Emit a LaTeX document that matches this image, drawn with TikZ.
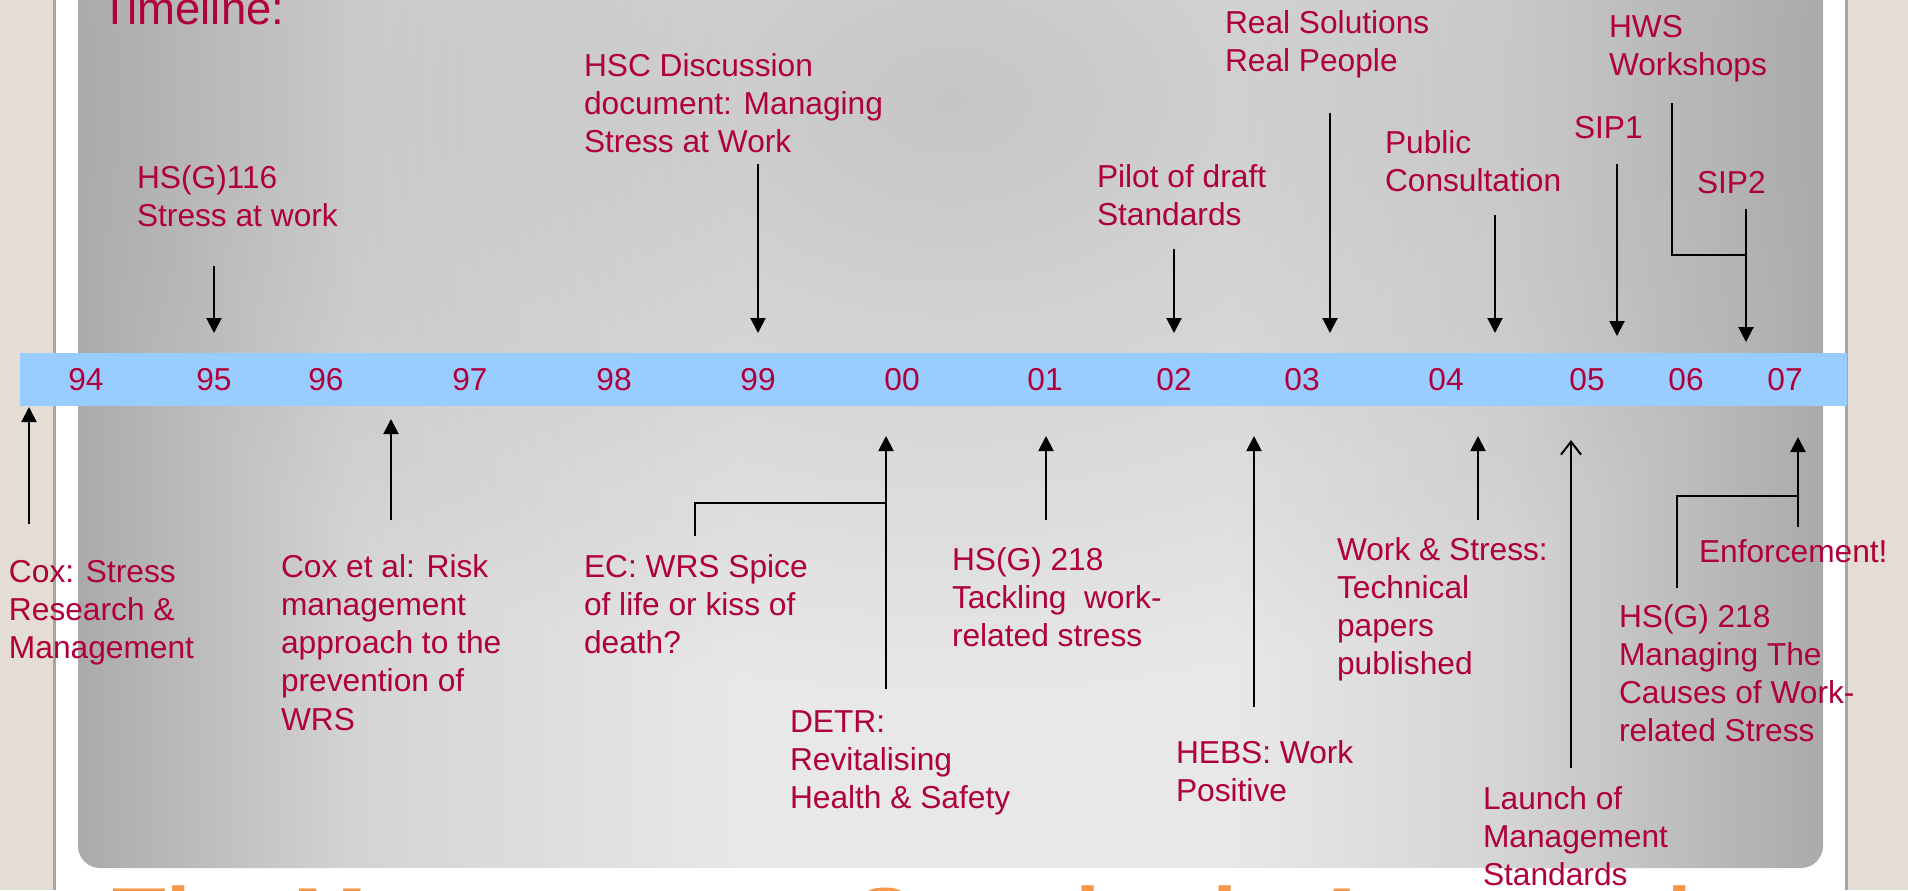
\documentclass[tikz,border=0pt]{standalone}
\usepackage{fontspec}
\setmainfont{Liberation Sans}
\usetikzlibrary{arrows.meta,fadings}
\definecolor{labred}{RGB}{176,0,58}
\definecolor{barblue}{RGB}{153,204,255}
\definecolor{beigeside}{RGB}{227,221,211}
\definecolor{edgegray}{RGB}{165,165,165}
\definecolor{orangeT}{RGB}{247,150,70}
\definecolor{pgA}{RGB}{170,170,170}
\definecolor{pgB}{RGB}{212,212,212}
\definecolor{pgC}{RGB}{232,232,232}
\pgfdeclarehorizontalshading{panelshade}{100bp}{color(0bp)=(pgA); color(25bp)=(pgA); color(33bp)=(pgB); color(44bp)=(pgC); color(58bp)=(pgC); color(66bp)=(pgB); color(75bp)=(pgA); color(100bp)=(pgA)}
\tikzfading[name=topmid, inner color=transparent!0, outer color=transparent!100]
\newcommand\lblfont{\fontsize{15.85pt}{19.15pt}\selectfont}
\newcommand\mlines[1]{\begin{tabular}[t]{@{}l@{}}#1\end{tabular}}
\tikzset{
  lbl/.style={anchor=base west, inner sep=0pt, outer sep=0pt, text=labred, font=\lblfont},
  yr/.style={anchor=base, inner sep=0pt, text=labred, font=\lblfont},
  arr/.style={line width=1pt, -{Triangle[length=7.5pt,width=7.5pt]}},
  openarr/.style={line width=1pt, -{Straight Barb[length=6.5pt,width=10pt,line width=1pt]}},
  brk/.style={line width=1.4pt}
}
\begin{document}
\begin{tikzpicture}[x=0.5pt,y=-0.5pt]
\useasboundingbox (0,0) rectangle (1908,890);
\begin{scope}
\clip (0,0) rectangle (1908,890);
% background
\fill[white] (0,0) rectangle (1908,890);
\fill[beigeside] (0,0) rectangle (53,890);
\fill[edgegray] (53,0) rectangle (56,890);
\fill[edgegray] (1845,0) rectangle (1848,890);
\fill[beigeside] (1848,0) rectangle (1908,890);
% panel
\shade[shading=panelshade, rounded corners=11pt] (78,-40) rectangle (1823,868);
\begin{scope}
\clip[rounded corners=11pt] (78,-40) rectangle (1823,868);
\fill[black, opacity=0.15, path fading=topmid, fit fading=true] (78,-500) rectangle (1823,700);
\end{scope}
% bar
\fill[barblue] (20,353) rectangle (1847,406);
% years
\node[yr] (y94) at (86,390) {94};
\node[yr] (y95) at (214,390) {95};
\node[yr] (y96) at (326,390) {96};
\node[yr] (y97) at (470,390) {97};
\node[yr] (y98) at (614,390) {98};
\node[yr] (y99) at (758,390) {99};
\node[yr] (y00) at (902,390) {00};
\node[yr] (y01) at (1045,390) {01};
\node[yr] (y02) at (1174,390) {02};
\node[yr] (y03) at (1302,390) {03};
\node[yr] (y04) at (1446,390) {04};
\node[yr] (y05) at (1587,390) {05};
\node[yr] (y06) at (1686,390) {06};
\node[yr] (y07) at (1785,390) {07};
% title
\node[anchor=base west, inner sep=0pt, text=labred, font=\fontsize{22.75pt}{27pt}\selectfont] (title) at (101,24) {Timeline:};
% upper labels
\node[lbl] (hsg116) at (137,188) {\mlines{HS(G)116\\Stress at work}};
\node[lbl] (hsc) at (584,76) {\mlines{HSC Discussion\\document: Managing\\Stress at Work}};
\node[lbl] (pilot) at (1097,187) {\mlines{Pilot of draft\\Standards}};
\node[lbl] (real) at (1225,33) {\mlines{Real Solutions\\Real People}};
\node[lbl] (public) at (1385,153) {\mlines{Public\\Consultation}};
\node[lbl] (sip1) at (1574,138) {SIP1};
\node[lbl] (hws) at (1609,37) {\mlines{HWS\\Workshops}};
\node[lbl] (sip2) at (1697,193) {SIP2};
% lower labels
\node[lbl] (cox) at (9,582) {\mlines{Cox: Stress\\Research \&\\Management}};
\node[lbl] (coxetal) at (281,577) {\mlines{Cox et al: Risk\\management\\approach to the\\prevention of\\WRS}};
\node[lbl] (ec) at (584,577) {\mlines{EC: WRS Spice\\of life or kiss of\\death?}};
\node[lbl] (detr) at (790,732) {\mlines{DETR:\\Revitalising\\Health \& Safety}};
\node[lbl] (hsg218a) at (952,570) {\mlines{HS(G) 218\\Tackling~ work-\\related stress}};
\node[lbl] (hebs) at (1176,763) {\mlines{HEBS: Work\\Positive}};
\node[lbl] (ws) at (1337,560) {\mlines{Work \& Stress:\\Technical\\papers\\published}};
\node[lbl] (launch) at (1483,809) {\mlines{Launch of\\Management\\Standards}};
\node[lbl] (enf) at (1699,562) {Enforcement!};
\node[lbl] (hsg218b) at (1619,627) {\mlines{HS(G) 218\\Managing The\\Causes of Work-\\related Stress}};
% arrow coordinates (down)
\coordinate (a95s) at (214,266); \coordinate (a95e) at (214,333);
\coordinate (a99s) at (758,164); \coordinate (a99e) at (758,333);
\coordinate (a02s) at (1174,249); \coordinate (a02e) at (1174,333);
\coordinate (a03s) at (1330,113); \coordinate (a03e) at (1330,333);
\coordinate (a04s) at (1495,215); \coordinate (a04e) at (1495,333);
\coordinate (as1s) at (1617,164); \coordinate (as1e) at (1617,336);
\coordinate (as2s) at (1746,209); \coordinate (as2e) at (1746,342);
\coordinate (hwsS) at (1672,103); \coordinate (hwsJ) at (1746,255);
\draw[arr] (a95s) -- (a95e);
\draw[arr] (a99s) -- (a99e);
\draw[arr] (a02s) -- (a02e);
\draw[arr] (a03s) -- (a03e);
\draw[arr] (a04s) -- (a04e);
\draw[arr] (as1s) -- (as1e);
\draw[arr] (as2s) -- (as2e);
\draw[brk] (hwsS) |- (hwsJ);
% arrow coordinates (up)
\coordinate (coxS) at (29,524); \coordinate (coxE) at (29,407);
\coordinate (caS) at (391,520); \coordinate (caE) at (391,419);
\coordinate (detrS) at (886,689); \coordinate (detrE) at (886,436);
\coordinate (ecS) at (695,536); \coordinate (ecJ) at (886,503);
\coordinate (h18S) at (1046,520); \coordinate (h18E) at (1046,436);
\coordinate (hebsS) at (1254,707); \coordinate (hebsE) at (1254,436);
\coordinate (wsS) at (1478,520); \coordinate (wsE) at (1478,436);
\coordinate (laS) at (1571,768); \coordinate (laE) at (1571,440);
\coordinate (enS) at (1798,527); \coordinate (enE) at (1798,437);
\coordinate (hbS) at (1677,588); \coordinate (enJ) at (1798,496);
\draw[arr] (coxS) -- (coxE);
\draw[arr] (caS) -- (caE);
\draw[arr] (detrS) -- (detrE);
\draw[brk] (ecS) |- (ecJ);
\draw[arr] (h18S) -- (h18E);
\draw[arr] (hebsS) -- (hebsE);
\draw[arr] (wsS) -- (wsE);
\draw[openarr] (laS) -- (laE);
\draw[arr] (enS) -- (enE);
\draw[brk] (hbS) |- (enJ);
% bottom heading (cut off)
\node[anchor=base west, inner sep=0pt, text=orangeT, font=\fontsize{44pt}{52pt}\selectfont\bfseries] (heading) at (112,949) {The Management Standards Approach};
\end{scope}
\end{tikzpicture}
\end{document}
